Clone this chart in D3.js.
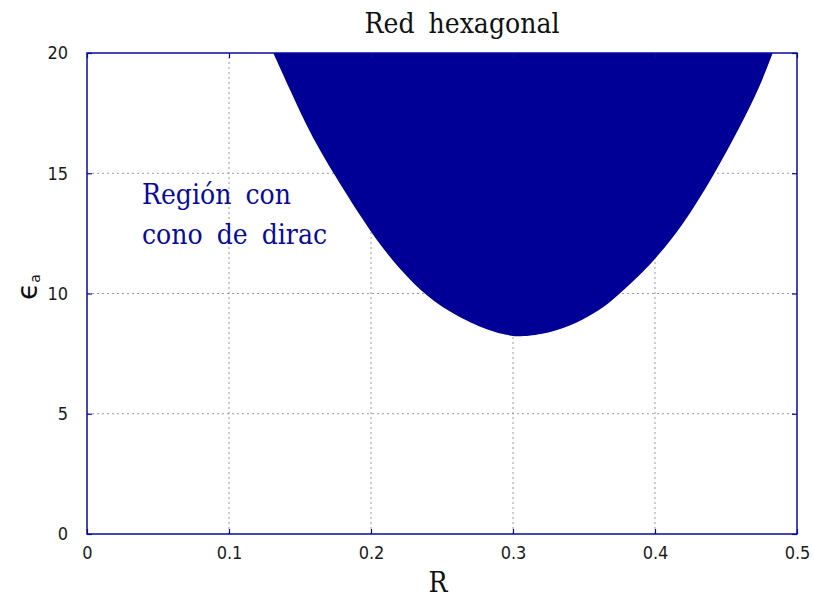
<!DOCTYPE html>
<html>
<head>
<meta charset="utf-8">
<script src="https://cdn.jsdelivr.net/npm/d3@7"></script>
<style>
  html, body { margin: 0; padding: 0; background: #fff; }
  svg { display: block; }
</style>
</head>
<body>
<svg id="chart" width="814" height="599"></svg>
<script>
// Lower boundary of the region (R, epsilon_a); the region extends up to epsilon_a = 20
const rBoundary   = [0.1312, 0.1430, 0.1570, 0.1734, 0.2000, 0.2204, 0.2392, 0.2604, 0.2861, 0.3002, 0.3049, 0.3260, 0.3448, 0.3613, 0.3730, 0.3918, 0.4000, 0.4176, 0.4423, 0.4599, 0.4739, 0.4829];
const epsBoundary = [20.0, 18.46, 16.66, 15.0, 12.5, 10.98, 9.87, 9.04, 8.37, 8.23, 8.20, 8.35, 8.76, 9.31, 9.87, 10.91, 11.44, 12.64, 15.0, 16.94, 18.60, 20.0];

const xTicks = [0, 0.1, 0.2, 0.3, 0.4, 0.5];
const yTicks = [0, 5, 10, 15, 20];
const xTickLabels = ["0", "0.1", "0.2", "0.3", "0.4", "0.5"];
const yTickLabels = ["0", "5", "10", "15", "20"];
const annotationLines = ["Región con", "cono de dirac"];

const svg = d3.select("#chart");
const margin = { left: 87, right: 17, top: 53, bottom: 65 };
const W = 814, H = 599;

const x = d3.scaleLinear().domain([0, 0.5]).range([margin.left, W - margin.right]);
const y = d3.scaleLinear().domain([0, 20]).range([H - margin.bottom, margin.top]);

const frameColor = "#0a0aa0";
const fillColor = "#000096";

// grid
const grid = svg.append("g");
grid.selectAll("line.gx").data(xTicks.slice(1, -1)).join("line")
  .attr("x1", d => x(d)).attr("x2", d => x(d))
  .attr("y1", y(0)).attr("y2", y(20))
  .attr("stroke", "#9a9a9a").attr("stroke-width", 1).attr("stroke-dasharray", "2,3");
grid.selectAll("line.gy").data(yTicks.slice(1, -1)).join("line")
  .attr("y1", d => y(d)).attr("y2", d => y(d))
  .attr("x1", x(0)).attr("x2", x(0.5))
  .attr("stroke", "#9a9a9a").attr("stroke-width", 1).attr("stroke-dasharray", "2,3");

// filled region above the boundary curve
const pts = rBoundary.map((r, i) => ({ r, e: epsBoundary[i] }));
const area = d3.area()
  .x(d => x(d.r))
  .y0(d => y(d.e))
  .y1(() => y(20))
  .curve(d3.curveBasis);
svg.append("path").datum(pts).attr("d", area).attr("fill", fillColor);

// axes with inward ticks
const xAxisB = d3.axisBottom(x).tickValues(xTicks).tickFormat((d, i) => xTickLabels[i]).tickSize(-5).tickPadding(12);
const xAxisT = d3.axisTop(x).tickValues(xTicks).tickFormat("").tickSize(-5);
const yAxisL = d3.axisLeft(y).tickValues(yTicks).tickFormat((d, i) => yTickLabels[i]).tickSize(-5).tickPadding(19);
const yAxisR = d3.axisRight(y).tickValues(yTicks).tickFormat("").tickSize(-5);

function styleAxis(g) {
  g.select(".domain").remove();
  g.selectAll(".tick line").attr("stroke", frameColor).attr("stroke-width", 1.2);
  g.selectAll(".tick text")
    .attr("fill", "#1a1a1a")
    .style("font-family", "'DejaVu Sans', sans-serif")
    .style("font-stretch", "condensed")
    .style("font-size", "18px");
}
svg.append("g").attr("transform", `translate(0,${y(0)})`).call(xAxisB).call(styleAxis);
svg.append("g").attr("transform", `translate(0,${y(20)})`).call(xAxisT).call(styleAxis);
svg.append("g").attr("transform", `translate(${x(0)},0)`).call(yAxisL).call(styleAxis);
svg.append("g").attr("transform", `translate(${x(0.5)},0)`).call(yAxisR).call(styleAxis);

// frame
svg.append("rect")
  .attr("x", x(0)).attr("y", y(20))
  .attr("width", x(0.5) - x(0)).attr("height", y(0) - y(20))
  .attr("fill", "none").attr("stroke", frameColor).attr("stroke-width", 1.5);

// title
svg.append("text")
  .attr("x", 462).attr("y", 33)
  .attr("text-anchor", "middle")
  .style("font-family", "'DejaVu Serif', serif")
  .style("font-stretch", "condensed")
  .style("font-size", "28px")
  .style("word-spacing", "6px")
  .attr("fill", "#111")
  .text("Red hexagonal");

// x label
svg.append("text")
  .attr("x", 438).attr("y", 592)
  .attr("text-anchor", "middle")
  .style("font-family", "'DejaVu Serif', serif")
  .style("font-stretch", "condensed")
  .style("font-size", "28px")
  .attr("fill", "#111")
  .text("R");

// y label: epsilon with subscript a
const yl = svg.append("text")
  .attr("transform", "translate(37,300) rotate(-90)")
  .style("font-family", "'DejaVu Sans', sans-serif")
  .attr("fill", "#111");
yl.append("tspan").style("font-size", "28px").text("ϵ");
yl.append("tspan").style("font-size", "14px").attr("dy", 3).text("a");

// annotation
svg.append("g").selectAll("text").data(annotationLines).join("text")
  .attr("x", 142)
  .attr("y", (d, i) => 204 + i * 40)
  .style("font-family", "'DejaVu Serif', serif")
  .style("font-stretch", "condensed")
  .style("font-size", "28px")
  .style("word-spacing", "6px")
  .attr("fill", "#0a0a9a")
  .text(d => d);
</script>
</body>
</html>
